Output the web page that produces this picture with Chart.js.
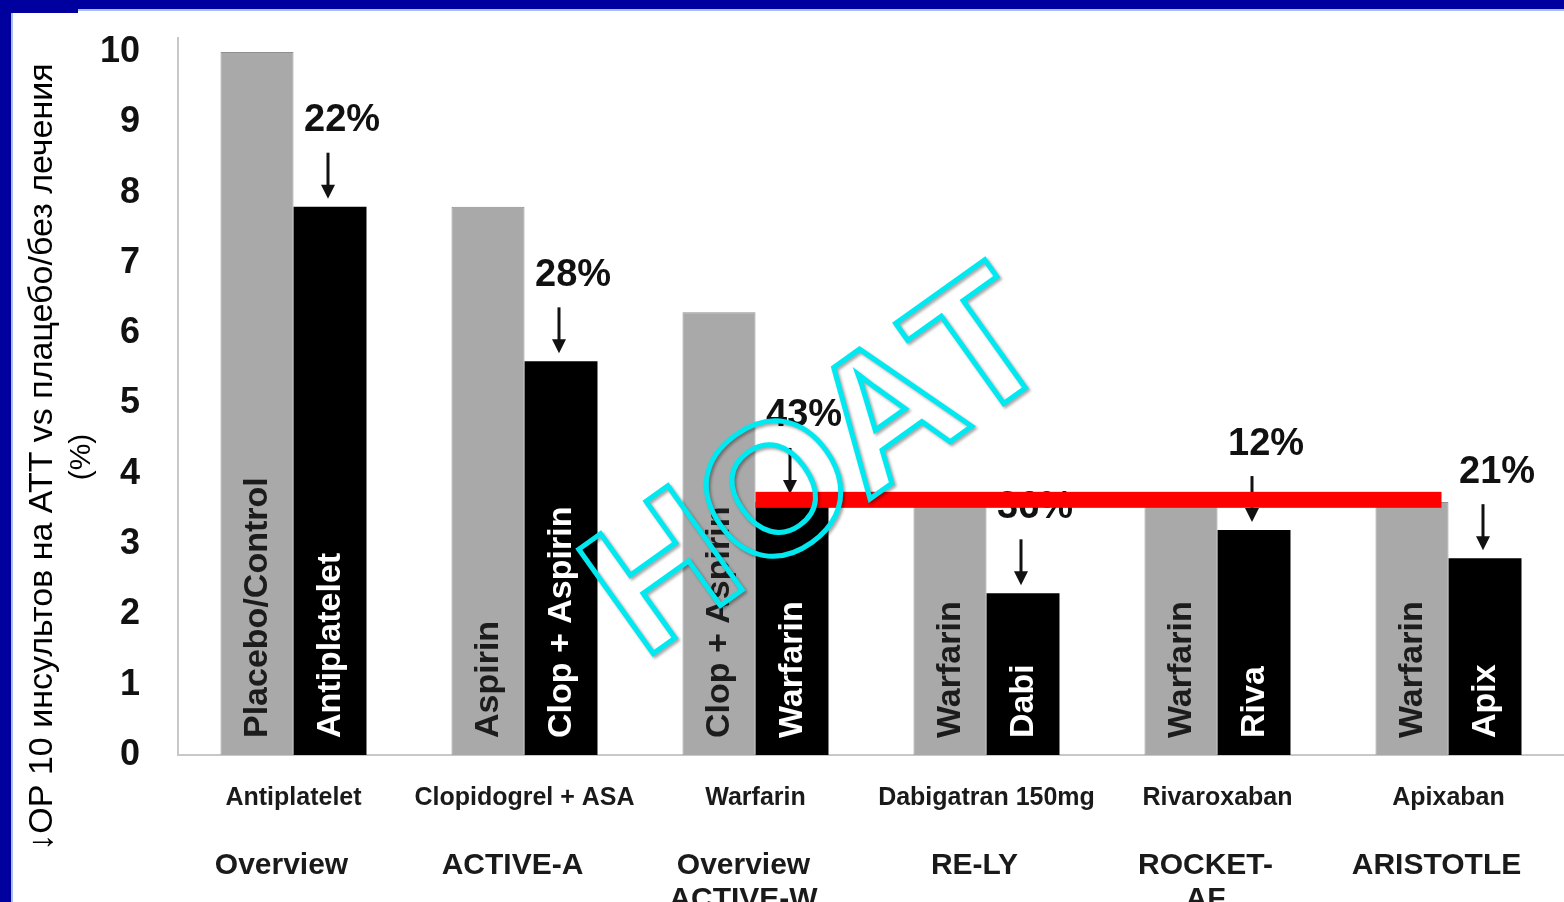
<!DOCTYPE html>
<html>
<head>
<meta charset="utf-8">
<script src="https://cdn.jsdelivr.net/npm/chart.js@4/dist/chart.umd.min.js"></script>
<style>
  html, body { margin: 0; padding: 0; background: #fff; }
  #wrap { width: 1564px; height: 902px; }
</style>
</head>
<body>
<div id="wrap"><canvas id="chart" width="1564" height="902"></canvas></div>
<script>
// drug / trial names under each pair of bars
const drugs = ["Antiplatelet", "Clopidogrel + ASA", "Warfarin", "Dabigatran 150mg", "Rivaroxaban", "Apixaban"]
const trials = [["Overview"], ["ACTIVE-A"], ["Overview", "ACTIVE-W"], ["RE-LY"], ["ROCKET-", "AF"], ["ARISTOTLE"]]

// stroke rate per 10 patients, control arm vs active arm
const controlValues = [10, 7.8, 6.3, 3.6, 3.6, 3.6]
const treatedValues = [7.8, 5.6, 3.6, 2.3, 3.2, 2.8]
const controlNames = ["Placebo/Control", "Aspirin", "Clop + Aspirin", "Warfarin", "Warfarin", "Warfarin"]
const treatedNames = ["Antiplatelet", "Clop + Aspirin", "Warfarin", "Dabi", "Riva", "Apix"]
const reductions = ["22%", "28%", "43%", "36%", "12%", "21%"]

// warfarin reference level, from ACTIVE-W to ARISTOTLE
const warfarinLevel = 3.63
const yTicks = [0, 1, 2, 3, 4, 5, 6, 7, 8, 9, 10]

const yTitle = ["↓ОР 10 инсультов на АТТ vs плацебо/без лечения", "(%)"]
const stamp = "НОАТ"

const FONT = "Arial, 'Liberation Sans', sans-serif"

const overlay = {
    id: "overlay",
    afterDatasetsDraw(chart) {
        const { ctx, scales: { x, y } } = chart
        const gray = chart.getDatasetMeta(0).data
        const black = chart.getDatasetMeta(1).data
        const base = y.getPixelForValue(0)

        // names written up the bars
        ctx.save()
        ctx.font = `bold 34px ${FONT}`
        ctx.textBaseline = "middle"
        ctx.textAlign = "left"
        const barText = (bar, text, color) => {
            ctx.save()
            ctx.translate(bar.x, base - 17)
            ctx.rotate(-Math.PI / 2)
            ctx.fillStyle = color
            ctx.fillText(text, 0, 1)
            ctx.restore()
        }
        gray.forEach((bar, i) => barText(bar, controlNames[i], "#1c1c1c"))
        black.forEach((bar, i) => barText(bar, treatedNames[i], "#ffffff"))
        ctx.restore()

        // relative reduction with arrow onto the active bar
        ctx.save()
        black.forEach((bar, i) => {
            ctx.font = `bold 38px ${FONT}`
            ctx.fillStyle = "#111"
            ctx.textAlign = "left"
            ctx.textBaseline = "middle"
            ctx.fillText(reductions[i], bar.x - 26, bar.y - 86)

            const ax = bar.x - 2
            ctx.strokeStyle = "#111"
            ctx.lineWidth = 3
            ctx.beginPath()
            ctx.moveTo(ax, bar.y - 54)
            ctx.lineTo(ax, bar.y - 20)
            ctx.stroke()
            ctx.fillStyle = "#111"
            ctx.beginPath()
            ctx.moveTo(ax - 7, bar.y - 22)
            ctx.lineTo(ax + 7, bar.y - 22)
            ctx.lineTo(ax, bar.y - 8)
            ctx.closePath()
            ctx.fill()
        })
        ctx.restore()

        // red warfarin line
        const ly = y.getPixelForValue(warfarinLevel)
        const x0 = black[2].x - black[2].width / 2
        const x1 = gray[5].x + gray[5].width / 2 - 7
        ctx.save()
        ctx.fillStyle = "#ff0000"
        ctx.fillRect(x0, ly - 8, x1 - x0, 16)
        ctx.restore()

        // category labels
        ctx.save()
        ctx.fillStyle = "#1a1a1a"
        ctx.textAlign = "center"
        ctx.textBaseline = "middle"
        drugs.forEach((d, i) => {
            const cx = x.getPixelForValue(i)
            ctx.font = `bold 25px ${FONT}`
            ctx.fillText(d, cx, 798)
            ctx.font = `bold 30px ${FONT}`
            trials[i].forEach((t, j) => ctx.fillText(t, cx - 12, 866 + j * 34))
        })
        ctx.restore()

        // axis title
        ctx.save()
        ctx.fillStyle = "#000"
        ctx.textAlign = "center"
        ctx.textBaseline = "middle"
        ctx.translate(43, 457)
        ctx.rotate(-Math.PI / 2)
        ctx.font = `34px ${FONT}`
        ctx.fillText(yTitle[0], 0, 0)
        ctx.font = `30px ${FONT}`
        ctx.fillText(yTitle[1], 0, 39)
        ctx.restore()

        // outlined stamp across the middle
        ctx.save()
        ctx.translate(822, 470)
        ctx.rotate(-35.5 * Math.PI / 180)
        ctx.font = `bold 186px ${FONT}`
        ctx.textAlign = "center"
        ctx.textBaseline = "middle"
        ctx.shadowColor = "rgba(0,0,0,0.35)"
        ctx.shadowOffsetX = 2
        ctx.shadowOffsetY = 2
        ctx.shadowBlur = 3
        ctx.strokeStyle = "#00e8f0"
        ctx.lineWidth = 5
        ctx.lineJoin = "miter"
        ctx.strokeText(stamp, 0, 0)
        ctx.restore()

        // slide frame
        ctx.save()
        ctx.fillStyle = "#00009e"
        ctx.fillRect(0, 0, chart.width, 9)
        ctx.fillRect(0, 0, 78, 13)
        ctx.fillRect(0, 0, 11, chart.height)
        ctx.fillStyle = "#a8bff0"
        ctx.fillRect(78, 9, chart.width - 78, 2)
        ctx.fillRect(11, 13, 2, chart.height - 13)
        ctx.restore()
    },
}

new Chart(document.getElementById("chart"), {
    type: "bar",
    data: {
        labels: drugs,
        datasets: [
            {
                label: "control",
                data: controlValues,
                backgroundColor: "#a9a9a9",
                borderColor: "#8f8f8f",
                borderWidth: 1,
                categoryPercentage: 0.632,
                barPercentage: 1,
            },
            {
                label: "active",
                data: treatedValues,
                backgroundColor: "#000000",
                borderWidth: 0,
                categoryPercentage: 0.632,
                barPercentage: 1,
            },
        ],
    },
    options: {
        responsive: false,
        animation: false,
        layout: { padding: { top: 38, right: 0, left: 0, bottom: 0 } },
        plugins: {
            legend: { display: false },
            tooltip: { enabled: false },
            title: { display: false },
        },
        scales: {
            x: {
                afterFit: (s) => {
                    s.height = 147
                    s.paddingLeft = 0
                    s.paddingRight = 0
                },
                ticks: { display: false },
                grid: { display: false, drawTicks: false },
                border: { color: "#c8c8c8", width: 2 },
            },
            y: {
                min: 0,
                max: 10.2,
                afterFit: (s) => {
                    s.width = 178
                    s.paddingTop = 0
                    s.paddingBottom = 0
                },
                afterBuildTicks: (s) => { s.ticks = yTicks.map((v) => ({ value: v })) },
                ticks: {
                    font: { family: FONT, size: 36, weight: "bold" },
                    color: "#111",
                    padding: 38,
                },
                grid: { display: false, drawTicks: false },
                border: { color: "#c8c8c8", width: 2 },
            },
        },
    },
    plugins: [overlay],
})
</script>
</body>
</html>
